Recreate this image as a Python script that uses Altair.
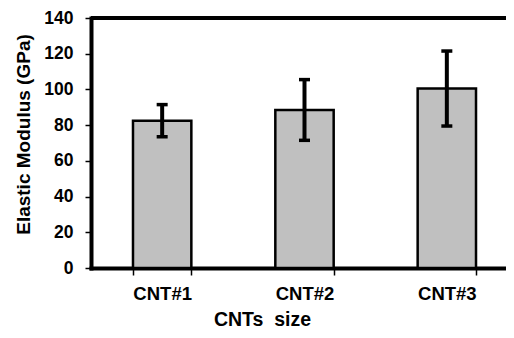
import altair as alt
import pandas as pd

categories = ["CNT#1", "CNT#2", "CNT#3"]
modulus = [82.5, 88.5, 100.5]
errors = [9, 17, 21]
y_ticks = [0, 20, 40, 60, 80, 100, 120, 140]

df = pd.DataFrame({"cnt": categories, "modulus": modulus, "err": errors})
df["low"] = df["modulus"] - df["err"]
df["high"] = df["modulus"] + df["err"]

FONT = "Liberation Sans"
YTITLE = "Elastic Modulus (GPa)"

# band range is wider than the visible plot: the reference plot runs off the right edge
xscale = alt.Scale(paddingInner=0.59, paddingOuter=0.295, range=[0, 427])
yscale = alt.Scale(domain=[0, 140], nice=False, zero=True)

x_axis = alt.Axis(
    labelAngle=0, tickBand="extent", domainWidth=4, domainColor="black",
    domainCap="square", tickColor="black", tickSize=7, tickWidth=1.5,
    labelFont=FONT, labelFontSize=18.5, labelFontWeight="bold", labelColor="black",
    labelBaseline="alphabetic", labelPadding=24, labelOverlap=False,
    titleFont=FONT, titleFontSize=19.5, titleFontWeight="bold", titleColor="black",
    titleX=171, titleY=57, titleAlign="center", titleBaseline="alphabetic",
)

y_axis = alt.Axis(
    values=y_ticks, tickCount=8, grid=False, domainWidth=4, domainColor="black",
    domainCap="square", tickColor="black", tickSize=6, tickWidth=1.5,
    labelFont=FONT, labelFontSize=17.5, labelFontWeight="bold", labelColor="black",
    labelPadding=12, labelOverlap=False,
    titleFont=FONT, titleFontSize=19, titleFontWeight="bold", titleColor="black",
    titleAngle=-90, titleX=-68, titleY=116, titleAlign="center", titleBaseline="middle",
)


def xe():
    return alt.X("cnt:N", sort=categories, scale=xscale, title="CNTs \u00a0size", axis=x_axis)


def ye(field):
    return alt.Y(field, scale=yscale, axis=y_axis, title=YTITLE)


base = alt.Chart(df)

bars = base.mark_bar(color="#c0c0c0", stroke="black", strokeWidth=2.5).encode(
    x=xe(), y=ye("modulus:Q"),
)

stems = base.mark_rule(color="black", strokeWidth=4).encode(
    x=xe(), y=ye("low:Q"), y2="high:Q",
)

caps_low = base.mark_tick(color="black", size=11, thickness=3.5, opacity=1).encode(
    x=xe(), y=ye("low:Q"),
)
caps_high = base.mark_tick(color="black", size=11, thickness=3.5, opacity=1).encode(
    x=xe(), y=ye("high:Q"),
)

top = alt.Chart(pd.DataFrame({"v": [140]})).mark_rule(color="black", strokeWidth=4).encode(
    y=ye("v:Q"),
)

chart = alt.layer(bars, stems, caps_low, caps_high, top).properties(
    width=415, height=250,
    padding={"left": 83, "top": 10, "right": 0, "bottom": 62},
    autosize=alt.AutoSizeParams(type="none"),
).configure_view(stroke=None).configure(background="white")

chart.save("out.html", embed_options={"renderer": "svg", "actions": False})
